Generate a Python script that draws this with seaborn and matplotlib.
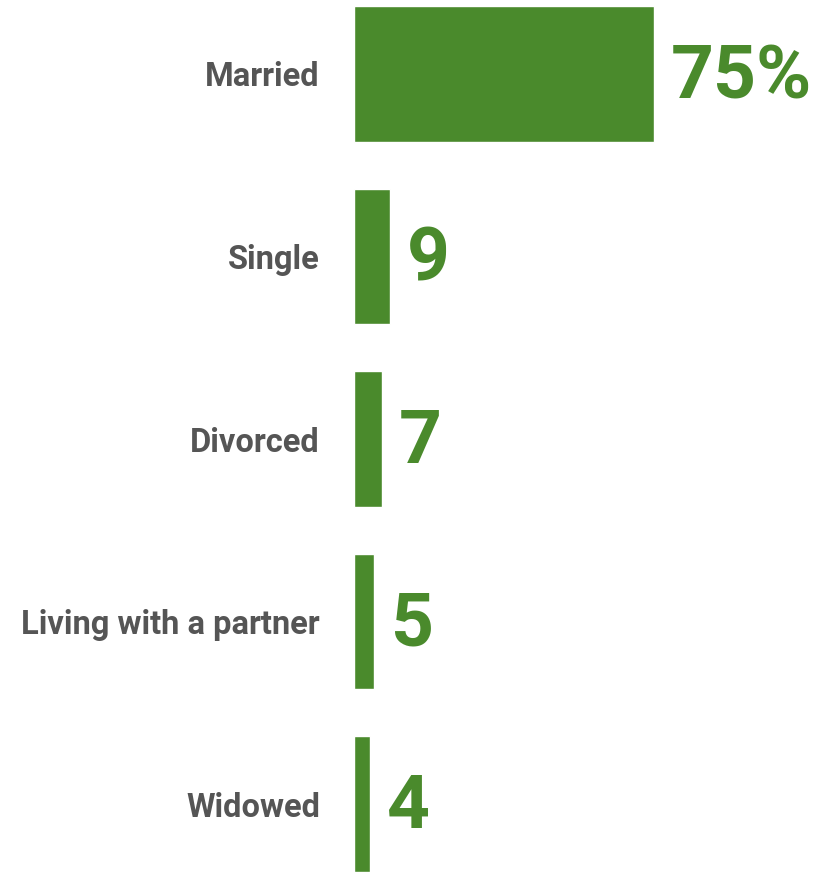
import pandas as pd
import matplotlib.pyplot as plt
import seaborn as sns

# Marital status shares (percent)
categories = ['Married', 'Single', 'Divorced', 'Living with a partner', 'Widowed']
values = [75, 9, 7, 5, 4]
value_labels = ['75%', '9', '7', '5', '4']

df = pd.DataFrame({'status': categories, 'share': values})

sns.set_theme(style='white')
plt.rcParams['font.family'] = ['Roboto', 'DejaVu Sans']

green = '#4a8a2c'
grey = '#555555'

fig = plt.figure(figsize=(8.23, 8.72), dpi=100)
ax = fig.add_axes([354 / 823, 0, 400 / 823, 1 - 6 / 872])

sns.barplot(data=df, x='share', y='status', color=green, width=0.745,
            saturation=1, ax=ax)

ax.set_xlim(0, 100)
ax.set_ylim(4 + 0.745 / 2, -0.745 / 2)

for i, (v, lab) in enumerate(zip(values, value_labels)):
    ax.annotate(lab, xy=(v, i), xytext=(12, -3), textcoords='offset points',
                ha='left', va='center', fontsize=54, fontweight='bold',
                color=green)

ax.set_xlabel('')
ax.set_ylabel('')
ax.set_xticks([])
ax.tick_params(axis='y', length=0, pad=24.5)
for t in ax.get_yticklabels():
    t.set_fontsize(23.5)
    t.set_fontweight('bold')
    t.set_color(grey)
sns.despine(ax=ax, left=True, bottom=True)

fig.savefig('out.png', dpi=100)
